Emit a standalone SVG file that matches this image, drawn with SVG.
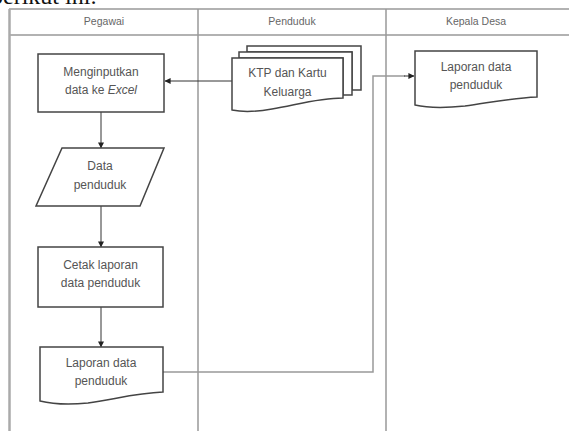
<svg xmlns="http://www.w3.org/2000/svg" width="569" height="431" viewBox="0 0 569 431">
<defs>
<marker id="arr" viewBox="0 0 8 8" refX="7.5" refY="4" markerWidth="6" markerHeight="6" orient="auto" markerUnits="userSpaceOnUse">
<path d="M0,0 L8,4 L0,8 Z" fill="#222"/>
</marker>
</defs>
<style>
.lane{stroke:#999;stroke-width:1.5;fill:none}
.node{fill:#fff;stroke:#444;stroke-width:1.5}
.t{font-family:"Liberation Sans",Arial,sans-serif;font-size:12px;fill:#555;text-anchor:middle}
.h{font-family:"Liberation Sans",Arial,sans-serif;font-size:10.5px;fill:#666;text-anchor:middle}
.c{stroke:#333;stroke-width:1;fill:none}
.c2{stroke:#999;stroke-width:1.5;fill:none}
</style>
<rect width="569" height="431" fill="#fff"/>
<text x="-9" y="4" font-family="Liberation Serif,serif" font-size="24" fill="#111">berikut ini:</text>
<g id="frame">
<line class="lane" x1="9" y1="9" x2="569" y2="9"/>
<line class="lane" x1="9" y1="35" x2="569" y2="35"/>
<line x1="9.5" y1="9" x2="9.5" y2="431" stroke="#aaa" stroke-width="2.5"/>
<line class="lane" x1="198" y1="9" x2="198" y2="431"/>
<line class="lane" x1="386" y1="9" x2="386" y2="431"/>
<text class="h" x="104" y="25">Pegawai</text>
<text class="h" x="292" y="25">Penduduk</text>
<text class="h" x="476" y="25">Kepala Desa</text>
</g>
<g id="connectors">
<line class="c" x1="232" y1="81" x2="165" y2="81" marker-end="url(#arr)"/>
<line class="c" x1="101" y1="112" x2="101" y2="148" marker-end="url(#arr)"/>
<line class="c" x1="101" y1="206" x2="101" y2="247" marker-end="url(#arr)"/>
<line class="c" x1="101" y1="307" x2="101" y2="347" marker-end="url(#arr)"/>
<path class="c2" d="M163,372 H373 V76 H405"/>
<line class="c" x1="404" y1="76" x2="414" y2="76" marker-end="url(#arr)"/>
</g>
<g id="n-input">
<rect class="node" x="38" y="54" width="126" height="58"/>
<text class="t" x="101" y="76">Menginputkan</text>
<text class="t" x="101" y="94">data ke <tspan font-style="italic">Excel</tspan></text>
</g>
<g id="n-data">
<path class="node" d="M62,148 H164 L140,206 H36 Z"/>
<text class="t" x="100" y="170">Data</text>
<text class="t" x="100" y="189">penduduk</text>
</g>
<g id="n-cetak">
<rect class="node" x="38" y="247" width="125" height="60"/>
<text class="t" x="100.5" y="269">Cetak laporan</text>
<text class="t" x="100.5" y="287">data penduduk</text>
</g>
<g id="n-laporan1">
<path class="node" d="M40,347 H163 V392 C135,393 112,400 88,403 C68,405 52,404 40,401 Z"/>
<text class="t" x="101" y="367">Laporan data</text>
<text class="t" x="101" y="385">penduduk</text>
</g>
<g id="n-ktp">
<path class="node" d="M247,46 H361 V90 H352 V52 H247 Z"/>
<path class="node" d="M239,52 H352 V95 H343 V58 H239 Z"/>
<path class="node" d="M232,58 H343 V98 C318,98 296,105 272,109 C255,112 242,112 232,110 Z"/>
<text class="t" x="287.5" y="77">KTP dan Kartu</text>
<text class="t" x="287.5" y="96">Keluarga</text>
</g>
<g id="n-laporan2">
<path class="node" d="M415,51 H537 V97 C510,98 488,103 465,106 C445,108 428,108 415,105 Z"/>
<text class="t" x="476" y="71">Laporan data</text>
<text class="t" x="476" y="89">penduduk</text>
</g>
</svg>
